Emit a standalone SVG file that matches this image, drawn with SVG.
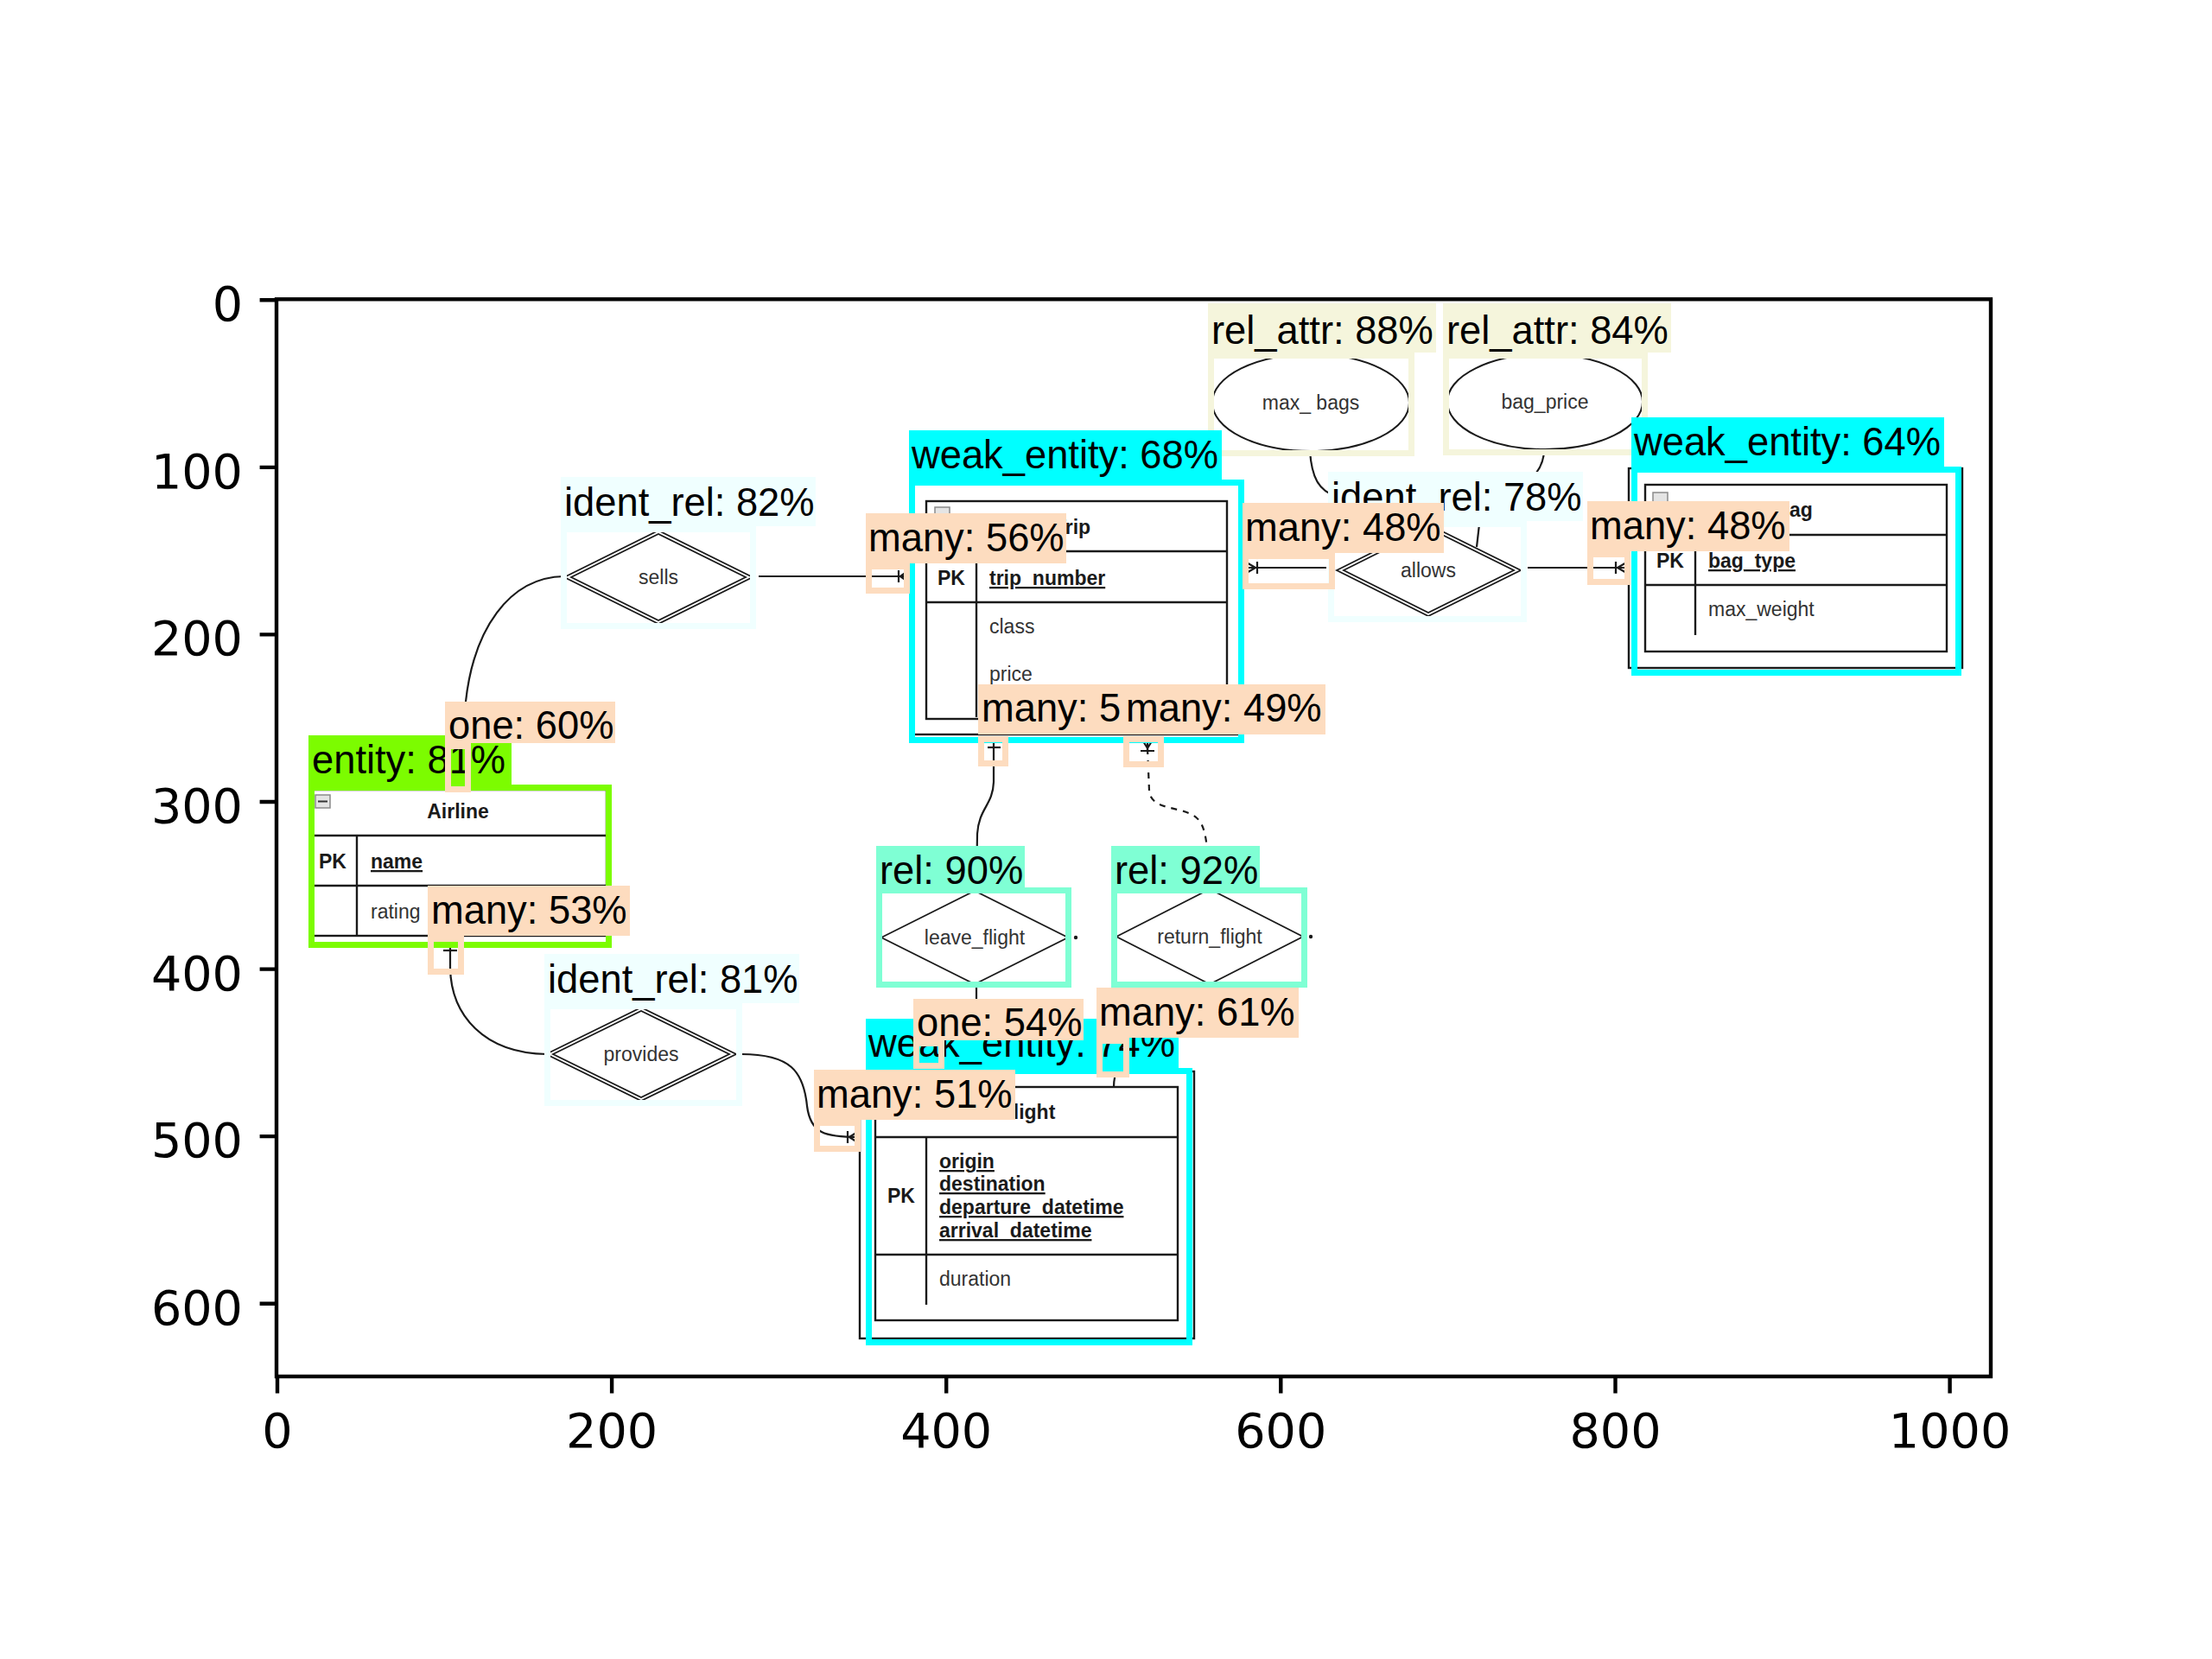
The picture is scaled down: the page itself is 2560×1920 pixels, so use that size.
<svg xmlns="http://www.w3.org/2000/svg" width="2560" height="1920" viewBox="0 0 2560 1920">
<style>
.ln{stroke:#1a1a1a;stroke-width:2.2;fill:none}
.dash{stroke:#1a1a1a;stroke-width:2.2;fill:none;stroke-dasharray:7 7}
.tb{fill:#fff;stroke:#1a1a1a;stroke-width:2.4}
.sh{fill:none;stroke:#1a1a1a;stroke-width:2.4}
.sep{stroke:#1a1a1a;stroke-width:2.4}
.ico{fill:#e4e4e4;stroke:#8a8a8a;stroke-width:1.5}
.t{font-family:"Liberation Sans",Arial,sans-serif;font-size:23px;fill:#333}
.b{font-weight:bold;fill:#1a1a1a}
.u{text-decoration:underline}
.c{text-anchor:middle}
.dm{fill:#fff;stroke:#1a1a1a;stroke-width:1.8}
.dm2{fill:none;stroke:#1a1a1a;stroke-width:1.8}
.el{fill:#fff;stroke:#1a1a1a;stroke-width:2}
.lab{font-family:"Liberation Sans",Arial,sans-serif;font-size:45.3px;fill:#000}
.bx{fill:none;stroke-width:7}
.tick{font-family:"DejaVu Sans",sans-serif;font-size:55.6px;fill:#000}
.ax{stroke:#000;stroke-width:4.4;fill:none}
.cy{fill:#00FFFF}.cys{stroke:#00FFFF}
.gr{fill:#7CFC00}.grs{stroke:#7CFC00}
.ir{fill:#F0FFFF}.irs{stroke:#F0FFFF}
.rl{fill:#7FFFD4}.rls{stroke:#7FFFD4}
.ra{fill:#F5F5DC}.ras{stroke:#F5F5DC}
.cd{fill:#FDDCBF}.cds{stroke:#FDDCBF}
</style>
<rect x="0" y="0" width="2560" height="1920" fill="#fff"/>

<!-- connectors -->
<g id="connectors">
<path class="ln" d="M653 667 C588 668 548 730 539 812 L532 912"/>
<path class="ln" d="M521 1084 L521 1120 C522 1175 560 1219 633 1220"/>
<path class="ln" d="M513 1100 L529 1100"/>
<path class="ln" d="M858 1220 C915 1220 930 1240 934 1280 C938 1312 955 1316 994 1316"/>
<path class="ln" d="M981 1309 L981 1323 M983 1316 L994 1309 M983 1316 L994 1323"/>
<path class="ln" d="M878 667 L1052 667"/>
<path class="ln" d="M1040 660 L1040 674 M1042 667 L1052 660 M1042 667 L1052 674"/>
<path class="ln" d="M1440 657 L1535 657"/>
<path class="ln" d="M1455 650 L1455 664 M1441 650 L1453 657 L1441 664"/>
<path class="ln" d="M1768 657 L1885 657"/>
<path class="ln" d="M1870 650 L1870 664 M1884 650 L1872 657 L1884 664"/>
<path class="ln" d="M1150 852 L1150 905 C1149 932 1133 935 1131 965 L1130 1031"/>
<path class="ln" d="M1143 865 L1158 865"/>
<path class="dash" d="M1328 866 L1330 915 C1332 937 1362 933 1380 943 C1394 951 1398 965 1399 1029"/>
<path class="ln" d="M1320 853 L1328 866 L1336 853 M1328 853 L1328 870 M1320 869 L1336 869"/>
<path class="ln" d="M1130 1139 L1130 1258"/>
<path class="ln" d="M1400 1139 C1400 1195 1289 1190 1289 1258"/>
<path class="ln" d="M1516 522 C1518 552 1526 568 1546 574 L1610 626"/>
<path class="ln" d="M1787 520 C1787 572 1713 570 1712 607 L1709 633"/>
</g>

<!-- entity nodes -->
<g id="airline">
<rect class="tb" x="362" y="914" width="340" height="169"/>
<line class="sep" x1="362" y1="967" x2="702" y2="967"/>
<line class="sep" x1="362" y1="1025" x2="702" y2="1025"/>
<line class="sep" x1="413" y1="967" x2="413" y2="1083"/>
<rect class="ico" x="365" y="920" width="17" height="15"/>
<line x1="368" y1="927.5" x2="379" y2="927.5" stroke="#333" stroke-width="2"/>
<text class="t b c" x="530" y="947">Airline</text>
<text class="t b" x="369" y="1005">PK</text>
<text class="t b u" x="429" y="1005">name</text>
<text class="t" x="429" y="1063">rating</text>
</g>

<g id="trip">
<rect class="sh" x="1057" y="560" width="380" height="290"/>
<rect class="tb" x="1072" y="580" width="348" height="252"/>
<line class="sep" x1="1072" y1="638" x2="1420" y2="638"/>
<line class="sep" x1="1072" y1="697" x2="1420" y2="697"/>
<line class="sep" x1="1130" y1="638" x2="1130" y2="830"/>
<rect class="ico" x="1082" y="587" width="17" height="15"/>
<text class="t b c" x="1241" y="618">Trip</text>
<text class="t b" x="1085" y="677">PK</text>
<text class="t b u" x="1145" y="677">trip_number</text>
<text class="t" x="1145" y="733">class</text>
<text class="t" x="1145" y="788">price</text>
</g>

<g id="bag">
<rect class="sh" x="1885" y="542" width="386" height="231"/>
<rect class="tb" x="1904" y="561" width="349" height="193"/>
<line class="sep" x1="1904" y1="619" x2="2253" y2="619"/>
<line class="sep" x1="1904" y1="677" x2="2253" y2="677"/>
<line class="sep" x1="1962" y1="619" x2="1962" y2="735"/>
<rect class="ico" x="1913" y="570" width="17" height="15"/>
<text class="t b c" x="2076" y="598">Bag</text>
<text class="t b" x="1917" y="657">PK</text>
<text class="t b u" x="1977" y="657">bag_type</text>
<text class="t" x="1977" y="713">max_weight</text>
</g>

<g id="flight">
<rect class="sh" x="995" y="1240" width="387" height="309"/>
<rect class="tb" x="1013" y="1258" width="350" height="270"/>
<line class="sep" x1="1013" y1="1316" x2="1363" y2="1316"/>
<line class="sep" x1="1013" y1="1452" x2="1363" y2="1452"/>
<line class="sep" x1="1072" y1="1316" x2="1072" y2="1510"/>
<rect class="ico" x="1022" y="1266" width="17" height="15"/>
<text class="t b c" x="1190" y="1295">Flight</text>
<text class="t b" x="1027" y="1392">PK</text>
<text class="t b u" x="1087" y="1352">origin</text>
<text class="t b u" x="1087" y="1378">destination</text>
<text class="t b u" x="1087" y="1405">departure_datetime</text>
<text class="t b u" x="1087" y="1432">arrival_datetime</text>
<text class="t" x="1087" y="1488">duration</text>
</g>

<!-- relationship nodes -->
<g id="sells">
<polygon class="dm" points="653,668 762,614 871,668 762,722"/>
<polygon class="dm2" points="661,668 762,618 863,668 762,718"/>
<text class="t c" x="762" y="676">sells</text>
</g>
<g id="provides">
<polygon class="dm" points="632,1220 742,1166 852,1220 742,1274"/>
<polygon class="dm2" points="640,1220 742,1170 844,1220 742,1270"/>
<text class="t c" x="742" y="1228">provides</text>
</g>
<g id="allows">
<polygon class="dm" points="1547,660 1653,607 1760,660 1653,713"/>
<polygon class="dm2" points="1555,660 1653,611 1752,660 1653,709"/>
<text class="t c" x="1653" y="668">allows</text>
</g>
<g id="leave_flight">
<polygon class="dm" points="1020,1085 1128,1031 1236,1085 1128,1139"/>
<circle cx="1245" cy="1085" r="2.2" fill="#1a1a1a"/>
<text class="t c" x="1128" y="1093">leave_flight</text>
</g>
<g id="return_flight">
<polygon class="dm" points="1292,1084 1400,1029 1508,1084 1400,1139"/>
<circle cx="1517" cy="1084" r="2.2" fill="#1a1a1a"/>
<text class="t c" x="1400" y="1092">return_flight</text>
</g>

<!-- attribute nodes -->
<g id="max_bags">
<ellipse class="el" cx="1517" cy="466" rx="114" ry="56"/>
<text class="t c" x="1517" y="474">max_ bags</text>
</g>
<g id="bag_price">
<ellipse class="el" cx="1788" cy="465" rx="113" ry="55"/>
<text class="t c" x="1788" y="473">bag_price</text>
</g>

<!-- detections -->
<g id="det_max_bags">
<rect class="bx ras" x="1401.5" y="411.5" width="232" height="113"/>
<rect class="ra" x="1398" y="351" width="264" height="57"/>
<text class="lab" x="1402" y="398">rel_attr: 88%</text>
</g>
<g id="det_bag_price">
<rect class="bx ras" x="1673.5" y="411.5" width="230" height="112"/>
<rect class="ra" x="1670" y="351" width="264" height="57"/>
<text class="lab" x="1674" y="398">rel_attr: 84%</text>
</g>
<g id="det_entity">
<rect class="bx grs" x="360.5" y="911.5" width="344" height="182"/>
<rect class="gr" x="357" y="851" width="235" height="57"/>
<text class="lab" x="361" y="895">entity: 81%</text>
</g>
<g id="det_trip">
<rect class="bx cys" x="1055.5" y="558.5" width="381" height="298"/>
<rect class="cy" x="1052" y="498" width="362" height="57"/>
<text class="lab" x="1055" y="542">weak_entity: 68%</text>
</g>
<g id="det_bag">
<rect class="bx cys" x="1891.5" y="543.5" width="375" height="235"/>
<rect class="cy" x="1888" y="483" width="362" height="57"/>
<text class="lab" x="1891" y="527">weak_entity: 64%</text>
</g>
<g id="det_flight">
<rect class="bx cys" x="1005.5" y="1239.5" width="371" height="314"/>
<rect class="cy" x="1002" y="1179" width="362" height="57"/>
<text class="lab" x="1005" y="1223">weak_entity: 74%</text>
</g>
<g id="det_sells">
<rect class="bx irs" x="652.5" y="612.5" width="219" height="112"/>
<rect class="ir" x="649" y="552" width="295" height="57"/>
<text class="lab" x="653" y="597">ident_rel: 82%</text>
</g>
<g id="det_provides">
<rect class="bx irs" x="633.5" y="1164.5" width="222" height="112"/>
<rect class="ir" x="630" y="1104" width="295" height="57"/>
<text class="lab" x="634" y="1149">ident_rel: 81%</text>
</g>
<g id="det_allows">
<rect class="bx irs" x="1540.5" y="606.5" width="223" height="110"/>
<rect class="ir" x="1537" y="546" width="295" height="57"/>
<text class="lab" x="1541" y="591">ident_rel: 78%</text>
</g>
<g id="det_leave">
<rect class="bx rls" x="1017.5" y="1030.5" width="219" height="109"/>
<rect class="rl" x="1014" y="979" width="172" height="48"/>
<text class="lab" x="1018" y="1023">rel: 90%</text>
</g>
<g id="det_return">
<rect class="bx rls" x="1289.5" y="1030.5" width="220" height="109"/>
<rect class="rl" x="1286" y="979" width="172" height="48"/>
<text class="lab" x="1290" y="1023">rel: 92%</text>
</g>

<g id="det_one_airline">
<rect class="bx cds" x="518.5" y="863.5" width="23" height="50"/>
<rect class="cd" x="515" y="812" width="197" height="48"/>
<text class="lab" x="519" y="855">one: 60%</text>
</g>
<g id="det_many_airline">
<rect class="bx cds" x="498.5" y="1086.5" width="35" height="38"/>
<rect class="cd" x="495" y="1025" width="234" height="58"/>
<text class="lab" x="499" y="1069">many: 53%</text>
</g>
<g id="det_many_sells_trip">
<rect class="bx cds" x="1005.5" y="655.5" width="44" height="28"/>
<rect class="cd" x="1002" y="594" width="232" height="58"/>
<text class="lab" x="1005" y="638">many: 56%</text>
</g>
<g id="det_many_trip_leave">
<rect class="bx cds" x="1135.5" y="855.5" width="28" height="28"/>
<rect class="cd" x="1132" y="792" width="232" height="58"/>
<text class="lab" x="1136" y="835">many: 5</text>
</g>
<g id="det_many_trip_return">
<rect class="bx cds" x="1303.5" y="855.5" width="40" height="29"/>
<rect class="cd" x="1300" y="792" width="234" height="58"/>
<text class="lab" x="1303" y="835">many: 49%</text>
</g>
<g id="det_many_trip_allows">
<rect class="bx cds" x="1441.5" y="643.5" width="100" height="35"/>
<rect class="cd" x="1438" y="582" width="233" height="58"/>
<text class="lab" x="1441" y="626">many: 48%</text>
</g>
<g id="det_many_allows_bag">
<rect class="bx cds" x="1840.5" y="641.5" width="43" height="32"/>
<rect class="cd" x="1837" y="580" width="234" height="58"/>
<text class="lab" x="1840" y="624">many: 48%</text>
</g>
<g id="det_one_flight">
<rect class="bx cds" x="1060.5" y="1207.5" width="29" height="26"/>
<rect class="cd" x="1057" y="1156" width="197" height="48"/>
<text class="lab" x="1061" y="1199">one: 54%</text>
</g>
<g id="det_many_return_flight">
<rect class="bx cds" x="1272.5" y="1204.5" width="31" height="39"/>
<rect class="cd" x="1269" y="1143" width="234" height="58"/>
<text class="lab" x="1272" y="1187">many: 61%</text>
</g>
<g id="det_many_provides_flight">
<rect class="bx cds" x="945.5" y="1299.5" width="47" height="30"/>
<rect class="cd" x="942" y="1238" width="233" height="58"/>
<text class="lab" x="945" y="1282">many: 51%</text>
</g>

<!-- axes -->
<g id="axes">
<rect class="ax" x="320" y="346.3" width="1984" height="1246.7"/>
<path class="ax" d="M300.6 347.3H320 M300.6 540.9H320 M300.6 734.4H320 M300.6 928H320 M300.6 1121.6H320 M300.6 1315.1H320 M300.6 1508.7H320"/>
<path class="ax" d="M321 1593V1612.4 M708.1 1593V1612.4 M1095.2 1593V1612.4 M1482.3 1593V1612.4 M1869.5 1593V1612.4 M2256.6 1593V1612.4"/>
<g class="tick" text-anchor="end">
<text x="281" y="371.3">0</text>
<text x="281" y="564.9">100</text>
<text x="281" y="758.4">200</text>
<text x="281" y="952">300</text>
<text x="281" y="1145.6">400</text>
<text x="281" y="1339.1">500</text>
<text x="281" y="1532.7">600</text>
</g>
<g class="tick" text-anchor="middle">
<text x="321" y="1675">0</text>
<text x="708.1" y="1675">200</text>
<text x="1095.2" y="1675">400</text>
<text x="1482.3" y="1675">600</text>
<text x="1869.5" y="1675">800</text>
<text x="2256.6" y="1675">1000</text>
</g>
</g>
</svg>
